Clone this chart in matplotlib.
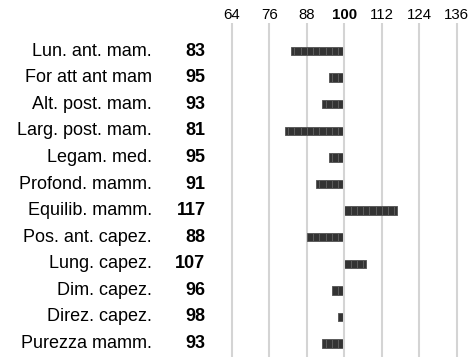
import numpy as np
import matplotlib.pyplot as plt
from matplotlib.transforms import blended_transform_factory, ScaledTranslation

plt.rcParams['font.family'] = ['Liberation Sans', 'DejaVu Sans']

traits = ["Lun. ant. mam.", "For att ant mam", "Alt. post. mam.", "Larg. post. mam.",
          "Legam. med.", "Profond. mamm.", "Equilib. mamm.", "Pos. ant. capez.",
          "Lung. capez.", "Dim. capez.", "Direz. capez.", "Purezza mamm."]
scores = [83, 95, 93, 81, 95, 91, 117, 88, 107, 96, 98, 93]
ticks = [64, 76, 88, 100, 112, 124, 136]

BASE = 100
BLOCK = 2  # each block is 2 points wide

fig = plt.figure(figsize=(4.68, 3.57), dpi=100)
ax = fig.add_axes([225.55 / 468, 0, 237.5 / 468, 334 / 357])
ax.set_xlim(62, 138)
ax.set_ylim(11.504, -1.053)

# vertical reference lines
for t in ticks:
    ax.axvline(t, color='#d4d4d4', lw=1.5, zorder=3 if t == BASE else 1)

# segmented bars, one block at a time outwards from the base
for i, v in enumerate(scores):
    step = BLOCK if v > BASE else -BLOCK
    edges = list(np.arange(BASE, v, step)) + [v]
    for a, b in zip(edges[:-1], edges[1:]):
        ax.barh(i, b - a, left=a, height=0.31, color='#333333',
                edgecolor='#5c5c5c', linewidth=0.7, zorder=2)

ax.xaxis.tick_top()
ax.set_xticks(ticks)
ax.set_xticklabels([str(t) for t in ticks], fontsize=10.8)
# nudge the crowded labels on the right so they stay inside the figure
nudge = {112: -1.5, 124: -5, 136: -4}
for lbl, t in zip(ax.get_xticklabels(), ticks):
    if t == BASE:
        lbl.set_fontweight('bold')
    if t in nudge:
        lbl.set_transform(lbl.get_transform() +
                          ScaledTranslation(nudge[t] / 100, 0, fig.dpi_scale_trans))
ax.tick_params(axis='x', length=0, pad=0.5)
ax.set_yticks([])
for s in ax.spines.values():
    s.set_visible(False)

# row names and values to the left of the plot area
trans = blended_transform_factory(fig.transFigure, ax.transData)
for i, (name, v) in enumerate(zip(traits, scores)):
    ax.text(151.7 / 468, i, name, transform=trans, ha='right', va='center',
            fontsize=13, clip_on=False)
    ax.text(205.5 / 468, i, str(v), transform=trans, ha='right', va='center',
            fontsize=13, fontweight='bold', clip_on=False)

fig.savefig('out.png', dpi=100)
